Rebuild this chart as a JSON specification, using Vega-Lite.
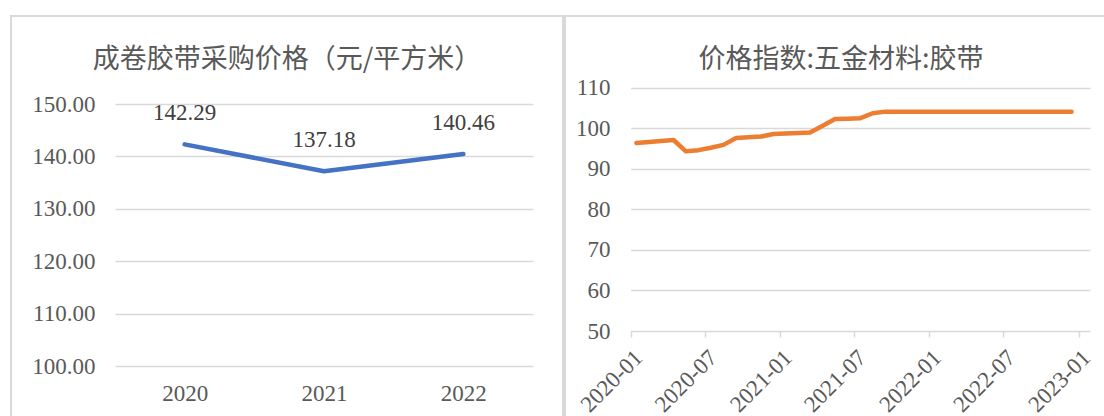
{
  "$schema": "https://vega.github.io/schema/vega-lite/v6.json",
  "background": "#ffffff",
  "padding": {"left": 10, "top": 15, "right": 0, "bottom": 0},
  "spacing": 0,
  "hconcat": [
    {
      "width": 552,
      "height": 420,
      "title": {
        "text": "成卷胶带采购价格（元/平方米）",
        "anchor": "middle",
        "frame": "group",
        "orient": "top",
        "offset": -67,
        "dy": 4,
        "baseline": "middle",
        "font": "Noto Sans CJK SC",
        "fontSize": 27,
        "fontWeight": "normal",
        "color": "#595959"
      },
      "data": {
        "values": [
          {"year": "2020", "price": 142.29},
          {"year": "2021", "price": 137.18},
          {"year": "2022", "price": 140.46}
        ]
      },
      "encoding": {
        "x": {
          "field": "year",
          "type": "ordinal",
          "scale": {"type": "point", "padding": 0.5, "range": [104, 522]},
          "axis": {
            "title": null,
            "orient": "bottom",
            "labelAngle": 0,
            "labelBaseline": "middle",
            "labelPadding": -43,
            "ticks": false,
            "tickSize": 0,
            "domain": false,
            "grid": false
          }
        },
        "y": {
          "field": "price",
          "type": "quantitative",
          "scale": {"domain": [100, 150], "range": [350, 88], "nice": false, "zero": false},
          "axis": {
            "title": null,
            "values": [100, 110, 120, 130, 140, 150],
            "format": ".2f",
            "labelPadding": -84,
            "labelAlign": "right",
            "labelBaseline": "middle",
            "ticks": false,
            "tickSize": 0,
            "domain": false,
            "grid": true
          }
        }
      },
      "layer": [
        {
          "mark": {"type": "line", "color": "#4472C4", "strokeWidth": 4.5, "strokeCap": "round", "strokeJoin": "round"}
        },
        {
          "mark": {"type": "text", "dy": -31, "baseline": "middle", "align": "center", "font": "Liberation Serif, Times New Roman, DejaVu Serif, serif", "fontSize": 23, "color": "#404040"},
          "encoding": {"text": {"field": "price", "type": "quantitative", "format": ".2f"}}
        }
      ]
    },
    {
      "width": 552,
      "height": 420,
      "title": {
        "text": "价格指数:五金材料:胶带",
        "anchor": "middle",
        "frame": "group",
        "orient": "top",
        "offset": -67,
        "dy": 4,
        "baseline": "middle",
        "font": "Noto Sans CJK SC",
        "fontSize": 27,
        "fontWeight": "normal",
        "color": "#595959"
      },
      "data": {
        "values": [
          {"date": "2020-01-15", "index": 96.35},
          {"date": "2020-02-15", "index": 96.6},
          {"date": "2020-03-15", "index": 96.85},
          {"date": "2020-04-15", "index": 97.1},
          {"date": "2020-05-15", "index": 94.3},
          {"date": "2020-06-15", "index": 94.6},
          {"date": "2020-07-15", "index": 95.2},
          {"date": "2020-08-15", "index": 95.9},
          {"date": "2020-09-15", "index": 97.6},
          {"date": "2020-10-15", "index": 97.8},
          {"date": "2020-11-15", "index": 97.95},
          {"date": "2020-12-15", "index": 98.6},
          {"date": "2021-01-15", "index": 98.7},
          {"date": "2021-02-15", "index": 98.8},
          {"date": "2021-03-15", "index": 98.95},
          {"date": "2021-04-15", "index": 100.6},
          {"date": "2021-05-15", "index": 102.3},
          {"date": "2021-06-15", "index": 102.35},
          {"date": "2021-07-15", "index": 102.45},
          {"date": "2021-08-15", "index": 103.7},
          {"date": "2021-09-15", "index": 104.1},
          {"date": "2021-10-15", "index": 104.1},
          {"date": "2021-11-15", "index": 104.1},
          {"date": "2021-12-15", "index": 104.1},
          {"date": "2022-01-15", "index": 104.1},
          {"date": "2022-02-15", "index": 104.1},
          {"date": "2022-03-15", "index": 104.1},
          {"date": "2022-04-15", "index": 104.1},
          {"date": "2022-05-15", "index": 104.1},
          {"date": "2022-06-15", "index": 104.1},
          {"date": "2022-07-15", "index": 104.1},
          {"date": "2022-08-15", "index": 104.1},
          {"date": "2022-09-15", "index": 104.1},
          {"date": "2022-10-15", "index": 104.1},
          {"date": "2022-11-15", "index": 104.1},
          {"date": "2022-12-15", "index": 104.1}
        ],
        "format": {"parse": {"date": "date:'%Y-%m-%d'"}}
      },
      "mark": {"type": "line", "color": "#ED7D31", "strokeWidth": 4.5, "strokeCap": "round", "strokeJoin": "round"},
      "encoding": {
        "x": {
          "field": "date",
          "type": "temporal",
          "scale": {
            "domain": [{"year": 2020, "month": 1, "date": 1}, {"year": 2023, "month": 1, "date": 29}],
            "range": [65.7, 525],
            "nice": false
          },
          "axis": {
            "title": null,
            "orient": "bottom",
            "offset": -105,
            "values": [
              {"year": 2020, "month": 1, "date": 1},
              {"year": 2020, "month": 7, "date": 1},
              {"year": 2021, "month": 1, "date": 1},
              {"year": 2021, "month": 7, "date": 1},
              {"year": 2022, "month": 1, "date": 1},
              {"year": 2022, "month": 7, "date": 1},
              {"year": 2023, "month": 1, "date": 1}
            ],
            "format": "%Y-%m",
            "labelAngle": -45,
            "labelAlign": "right",
            "labelBaseline": "top",
            "labelPadding": 9,
            "labelOverlap": false,
            "ticks": true,
            "tickSize": 6,
            "tickColor": "#d9d9d9",
            "tickWidth": 1.5,
            "domain": false,
            "grid": false
          }
        },
        "y": {
          "field": "index",
          "type": "quantitative",
          "scale": {"domain": [50, 110], "range": [315, 71.7], "nice": false, "zero": false},
          "axis": {
            "title": null,
            "values": [50, 60, 70, 80, 90, 100, 110],
            "format": "d",
            "labelPadding": -45,
            "labelAlign": "right",
            "labelBaseline": "middle",
            "ticks": false,
            "tickSize": 0,
            "domain": false,
            "grid": true
          }
        }
      }
    }
  ],
  "config": {
    "view": {"stroke": "#d9d9d9", "strokeWidth": 2},
    "axis": {
      "labelFont": "Liberation Serif, Times New Roman, DejaVu Serif, serif",
      "labelFontSize": 23,
      "labelColor": "#595959",
      "labelFlush": false,
      "gridColor": "#d9d9d9",
      "gridWidth": 1.5
    }
  }
}
